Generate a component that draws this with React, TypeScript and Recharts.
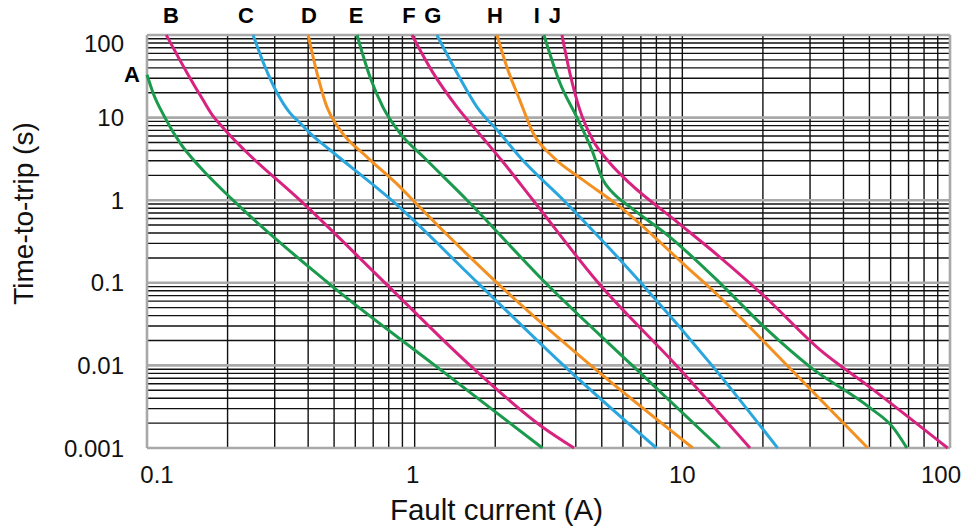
import React from 'react';
import { LineChart, Line, XAxis, YAxis, ReferenceDot, Label } from 'recharts';

// ---- axes / ticks ----
const xTicks = [0.1, 1, 10, 100];
const xTickLabels = ['0.1', '1', '10', '100'];
const yTicks = [0.001, 0.01, 0.1, 1, 10, 100];
const yTickLabels = ['0.001', '0.01', '0.1', '1', '10', '100'];
const xDecades = [0.1, 1, 10];
const yDecades = [0.001, 0.01, 0.1, 1, 10];
const minorSteps = [2, 3, 4, 5, 6, 7, 8, 9];
const xEdges = [0.1, 100];

// ---- curves (x = fault current A, t = time-to-trip s) ----
const curveNames = ['A', 'B', 'C', 'D', 'E', 'F', 'G', 'H', 'I', 'J'];
const curveColors = ['#1a9a4c', '#d8227f', '#2aa6de', '#f39020', '#1a9a4c', '#d8227f', '#2aa6de', '#f39020', '#1a9a4c', '#d8227f'];
const letterX = [0.1, 0.123, 0.234, 0.403, 0.604, 0.952, 1.17, 1.995, 2.86, 3.34];
const letterT = [33.7, 100, 100, 100, 100, 100, 100, 100, 100, 100];

const curveA = [
  { x: 0.1, t: 33 }, { x: 0.1053, t: 20 }, { x: 0.1167, t: 10 }, { x: 0.133, t: 4.9 },
  { x: 0.158, t: 2.5 }, { x: 0.2096, t: 1.0 }, { x: 0.4744, t: 0.1 }, { x: 1.19, t: 0.01 },
  { x: 3.0, t: 0.001 },
];
const curveB = [
  { x: 0.118, t: 100 }, { x: 0.141, t: 35 }, { x: 0.162, t: 16.3 }, { x: 0.176, t: 10.6 },
  { x: 0.1874, t: 8.3 }, { x: 0.204, t: 6.1 }, { x: 0.232, t: 4.0 }, { x: 0.3727, t: 1.0 },
  { x: 0.7745, t: 0.1 }, { x: 1.61, t: 0.01 }, { x: 3.0, t: 0.0018 }, { x: 3.94, t: 0.001 },
];
const curveC = [
  { x: 0.249, t: 100 }, { x: 0.277, t: 40 }, { x: 0.306, t: 20 }, { x: 0.342, t: 11.4 },
  { x: 0.373, t: 8.6 }, { x: 0.406, t: 6.5 }, { x: 0.483, t: 4.05 }, { x: 0.82, t: 1.0 },
  { x: 1.72, t: 0.1 }, { x: 3.6, t: 0.01 }, { x: 8.0, t: 0.001 },
];
const curveD = [
  { x: 0.4, t: 100 }, { x: 0.4315, t: 34.7 }, { x: 0.47, t: 13.4 }, { x: 0.526, t: 7.1 },
  { x: 0.664, t: 3.33 }, { x: 0.881, t: 1.45 }, { x: 0.985, t: 1.0 }, { x: 2.03, t: 0.1 },
  { x: 4.55, t: 0.01 }, { x: 10.95, t: 0.001 },
];
const curveE = [
  { x: 0.609, t: 100 }, { x: 0.681, t: 31 }, { x: 0.761, t: 13.4 }, { x: 0.881, t: 6.5 },
  { x: 1.08, t: 3.33 }, { x: 1.57, t: 1.0 }, { x: 3.08, t: 0.1 }, { x: 6.5, t: 0.01 },
  { x: 13.8, t: 0.001 },
];
const curveF = [
  { x: 0.977, t: 100 }, { x: 1.17, t: 35 }, { x: 1.44, t: 13.4 }, { x: 1.75, t: 6.3 },
  { x: 2.12, t: 3.0 }, { x: 2.77, t: 1.0 }, { x: 4.85, t: 0.1 }, { x: 9.5, t: 0.01 },
  { x: 17.9, t: 0.001 },
];
const curveG = [
  { x: 1.21, t: 100 }, { x: 1.44, t: 34.7 }, { x: 1.71, t: 13.4 }, { x: 2.08, t: 6.5 },
  { x: 2.47, t: 3.33 }, { x: 3.6, t: 1.0 }, { x: 7.0, t: 0.1 }, { x: 12.9, t: 0.01 },
  { x: 22.7, t: 0.001 },
];
const curveH = [
  { x: 2.03, t: 100 }, { x: 2.21, t: 41 }, { x: 2.47, t: 16.3 }, { x: 2.77, t: 6.5 },
  { x: 3.29, t: 3.33 }, { x: 4.25, t: 1.76 }, { x: 5.85, t: 0.83 }, { x: 10.4, t: 0.155 },
  { x: 13.8, t: 0.0673 }, { x: 20.4, t: 0.0187 }, { x: 49.3, t: 0.001 },
];
const curveI = [
  { x: 3.04, t: 100 }, { x: 3.49, t: 26.2 }, { x: 4.04, t: 10 }, { x: 4.6, t: 4.0 },
  { x: 5.05, t: 1.76 }, { x: 5.51, t: 1.22 }, { x: 6.37, t: 0.83 }, { x: 8.99, t: 0.358 },
  { x: 13.8, t: 0.1 }, { x: 20.4, t: 0.0284 }, { x: 30, t: 0.0096 }, { x: 50, t: 0.0031 },
  { x: 61, t: 0.0018 }, { x: 69, t: 0.001 },
];
const curveJ = [
  { x: 3.55, t: 100 }, { x: 3.8, t: 34.7 }, { x: 4.14, t: 12.4 }, { x: 4.63, t: 5.36 },
  { x: 5.36, t: 2.82 }, { x: 6.37, t: 1.6 }, { x: 9.4, t: 0.57 }, { x: 13.8, t: 0.205 },
  { x: 20.4, t: 0.0673 }, { x: 32.7, t: 0.0154 }, { x: 50, t: 0.0055 }, { x: 98, t: 0.001 },
];
const curves = [curveA, curveB, curveC, curveD, curveE, curveF, curveG, curveH, curveI, curveJ];

const FONT = '"Liberation Sans", Arial, Helvetica, sans-serif';

// grid line values
const xMinor = xDecades.flatMap((d) => minorSteps.map((m) => d * m)).concat([1, 10]);
const yMinor = yDecades.flatMap((d) => minorSteps.map((m) => d * m));
const X0 = xTicks[0];
const X1 = xTicks[xTicks.length - 1];
const Y0 = yTicks[0];
const Y1 = yTicks[yTicks.length - 1];
const vLine = (v: number) => [{ x: v, t: Y0 }, { x: v, t: Y1 }];
const hLine = (v: number) => [{ x: X0, t: v }, { x: X1, t: v }];

const XTick = (props: any) => {
  const { x, y, payload, index } = props;
  const i = xTicks.indexOf(payload.value);
  let dx = 0;
  if (index === 0) dx = 10;
  else if (index === xTicks.length - 1) dx = -9;
  else if (index === 1) dx = -2;
  return (
    <text x={x + dx} y={y + 35} textAnchor="middle" fontSize={24} fontFamily={FONT} fill="#111">
      {xTickLabels[i]}
    </text>
  );
};

const YTick = (props: any) => {
  const { x, y, payload, index } = props;
  const i = yTicks.indexOf(payload.value);
  const dy = index === yTicks.length - 1 ? 8 : 0;
  return (
    <text x={x - 23} y={y + dy + 8.5} textAnchor="end" fontSize={24} fontFamily={FONT} fill="#111">
      {yTickLabels[i]}
    </text>
  );
};

const gridProps = { dataKey: 't', type: 'linear' as const, dot: false, activeDot: false, isAnimationActive: false, legendType: 'none' as const };

export default function App() {
  return (
    <div>
      <style>{'body{margin:0}'}</style>
      <LineChart width={976} height={529} margin={{ top: 35, right: 26, bottom: 0, left: 0 }}>
        <XAxis
          dataKey="x"
          type="number"
          scale="log"
          domain={[0.1, 100]}
          ticks={xTicks}
          tick={<XTick />}
          tickSize={0}
          tickMargin={0}
          axisLine={false}
          height={81}
        >
          <Label
            content={(p: any) => {
              const vb = p.viewBox;
              return (
                <text x={vb.x + vb.width / 2 - 52} y={520} textAnchor="middle" fontSize={29.5} fontFamily={FONT} fill="#111">
                  Fault current (A)
                </text>
              );
            }}
          />
        </XAxis>
        <YAxis
          type="number"
          scale="log"
          domain={[0.001, 100]}
          ticks={yTicks}
          tick={<YTick />}
          tickSize={0}
          tickMargin={0}
          axisLine={false}
          width={147}
        >
          <Label
            content={(p: any) => {
              const vb = p.viewBox;
              const cy = vb.y + vb.height / 2 - 28;
              return (
                <text x={33} y={cy} transform={`rotate(-90 33 ${cy})`} textAnchor="middle" fontSize={28} fontFamily={FONT} fill="#111">
                  Time-to-trip (s)
                </text>
              );
            }}
          />
        </YAxis>
        {xMinor.map((v) => (
          <Line key={'gv' + v} data={vLine(v)} stroke="#111" strokeWidth={1.4} {...gridProps} />
        ))}
        {yMinor.map((v) => (
          <Line key={'gh' + v} data={hLine(v)} stroke="#111" strokeWidth={1.4} {...gridProps} />
        ))}
        {yTicks.map((v) => (
          <Line key={'gd' + v} data={hLine(v)} stroke="#a9a9a9" strokeWidth={2.6} {...gridProps} />
        ))}
        {xEdges.map((v) => (
          <Line key={'ge' + v} data={vLine(v)} stroke="#a9a9a9" strokeWidth={2.6} {...gridProps} />
        ))}
        {curves.map((c, i) => (
          <Line
            key={curveNames[i]}
            data={c}
            dataKey="t"
            type="monotone"
            stroke={curveColors[i]}
            strokeWidth={3}
            dot={false}
            activeDot={false}
            isAnimationActive={false}
          />
        ))}
        {curveNames.map((n, i) => (
          <ReferenceDot
            key={'lbl' + n}
            x={letterX[i]}
            y={letterT[i]}
            r={0}
            fill="none"
            stroke="none"
            label={{
              content: (p: any) => {
                const vb = p.viewBox || {};
                const cx = vb.x + (vb.width || 0) / 2;
                const cy = vb.y + (vb.height || 0) / 2;
                if (i === 0) {
                  return (
                    <text x={cx - 7} y={cy + 8} textAnchor="end" fontSize={22} fontWeight="bold" fontFamily={FONT} fill="#000">
                      {n}
                    </text>
                  );
                }
                return (
                  <text x={cx} y={23} textAnchor="middle" fontSize={22} fontWeight="bold" fontFamily={FONT} fill="#000">
                    {n}
                  </text>
                );
              },
            }}
          />
        ))}
      </LineChart>
    </div>
  );
}
